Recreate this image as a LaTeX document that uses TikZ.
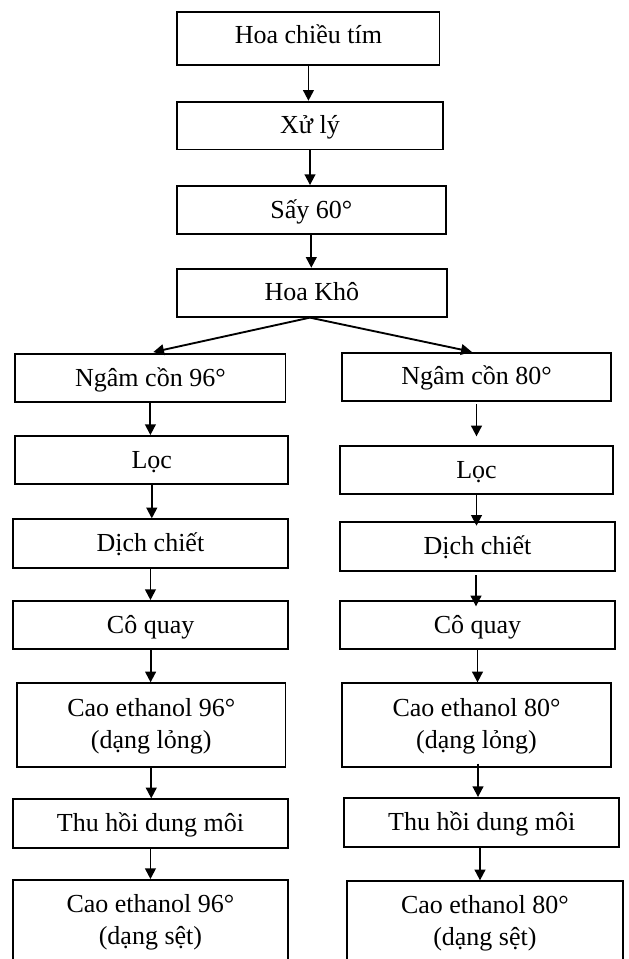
\documentclass[tikz,border=0pt]{standalone}
\usepackage{fontspec}
\setmainfont{Liberation Serif}
\usetikzlibrary{arrows.meta,calc}

% coordinates are given in pixel-like units, y pointing down
\tikzset{
  x=0.75pt, y=-0.75pt,
  box/.style={draw, line width=1.4pt, rectangle, inner sep=0pt, align=center,
    font=\fontsize{19.5}{24}\selectfont, text height=14pt, text depth=2pt},
  twoline/.style={text height=36pt, text depth=1.5pt},
  flow/.style={line width=1.4pt, -{Triangle[length=8pt,width=8pt]}},
}

% \procbox[extra style]{name}{x1}{y1}{x2}{y2}{text}
\newcommand\procbox[7][]{%
  \node[box, #1, minimum width={(#5-#3)*0.75pt}, minimum height={(#6-#4)*0.75pt}]
    (#2) at ({(#3+#5)/2},{(#4+#6)/2}) {#7};}

\begin{document}
\begin{tikzpicture}
\useasboundingbox (0,0) rectangle (628,959);
\clip (0,0) rectangle (628,959);
\fill[white] (0,0) rectangle (628,959);

% main trunk
\procbox[text depth=6pt]{t1}{177.4}{12}{439.5}{65.3}{Hoa chiều tím}
\procbox{t2}{177}{101.7}{443}{149.5}{Xử lý}
\procbox{t3}{177}{186}{445.6}{234.3}{Sấy 60°}
\procbox{t4}{177}{268.7}{446.8}{316.7}{Hoa Khô}

% ethanol 96 branch
\procbox{l1}{15.3}{354}{285.5}{402.3}{Ngâm cồn 96°}
\procbox{l2}{15.3}{436}{288.3}{484.3}{Lọc}
\procbox{l3}{12.9}{519.3}{288}{567.7}{Dịch chiết}
\procbox{l4}{12.9}{601}{288.3}{649.3}{Cô quay}
\procbox[twoline]{l5}{17}{683.3}{285.5}{766.7}{Cao ethanol 96°\\(dạng lỏng)}
\procbox{l6}{12.9}{799.3}{288}{847.7}{Thu hồi dung môi}
\procbox[twoline]{l7}{12.9}{880}{288}{963}{Cao ethanol 96°\\(dạng sệt)}

% ethanol 80 branch
\procbox{r1}{342}{352.7}{611}{401}{Ngâm cồn 80°}
\procbox{r2}{340}{446}{613}{494.3}{Lọc}
\procbox{r3}{340}{522}{615}{570.7}{Dịch chiết}
\procbox{r4}{340}{601}{615}{649.3}{Cô quay}
\procbox[twoline]{r5}{342}{683.3}{611}{767.3}{Cao ethanol 80°\\(dạng lỏng)}
\procbox{r6}{344}{798}{619.4}{846.7}{Thu hồi dung môi}
\procbox[twoline]{r7}{346.8}{881.3}{623}{964}{Cao ethanol 80°\\(dạng sệt)}

% trunk arrows
\draw[flow] (t1.south) -- (t1.south |- t2.north);
\draw[flow] (t2.south) -- (t2.south |- t3.north);
\draw[flow] (t3.south) -- (t3.south |- t4.north);

% split into the two branches
\draw[flow] ($(t4.south)+(-2,0)$) -- ($(l1.north)+(2.9,-1)$);
\draw[flow] ($(t4.south)+(-2,0)$) -- ($(r1.north)+(-4.8,0)$);

% left branch arrows
\draw[flow] (l1.south) -- (l1.south |- l2.north);
\draw[flow] (l2.south) -- (l2.south |- l3.north);
\draw[flow] (l3.south) -- (l3.south |- l4.north);
\draw[flow] (l4.south) -- (l4.south |- l5.north);
\draw[flow] (l5.south) -- (l5.south |- l6.north);
\draw[flow] (l6.south) -- (l6.south |- l7.north);

% right branch arrows
\draw[flow] ($(r1.south)+(0,2.3)$) -- ($(r1.south |- r2.north)+(0,-8.7)$);
\draw[flow] (r2.south) -- ($(r2.south |- r3.north)+(0,4.7)$);
\draw[flow] ($(r3.south)+(-1.5,3.6)$) -- ($(r3.south |- r4.north)+(-1.5,6.3)$);
\draw[flow] (r4.south) -- (r4.south |- r5.north);
\draw[flow] ($(r5.south)+(1.5,-4.6)$) -- ($(r5.south |- r6.north)+(1.5,0)$);
\draw[flow] ($(r6.south)+(-1.7,0)$) -- ($(r6.south |- r7.north)+(-1.7,0)$);
\end{tikzpicture}
\end{document}
